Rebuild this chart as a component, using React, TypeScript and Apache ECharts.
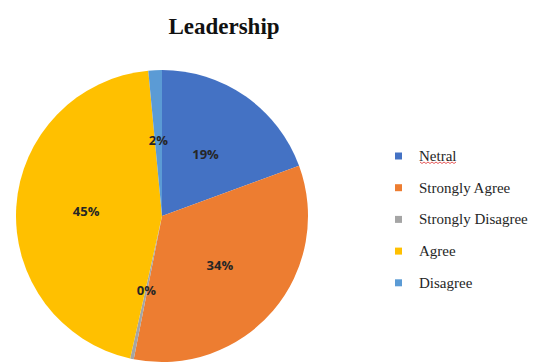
import React, { useEffect, useRef } from "react";
import * as echarts from "echarts";

const categories = ["Netral", "Strongly Agree", "Strongly Disagree", "Agree", "Disagree"];
const values = [19.4, 33.7, 0.4, 45.0, 1.5];
const colors = ["#4472C4", "#ED7D31", "#A5A5A5", "#FFC000", "#5B9BD5"];
const title = "Leadership";

export default function App() {
  const ref = useRef<HTMLDivElement>(null);
  useEffect(() => {
    if (!ref.current) return;
    const chart = echarts.init(ref.current, null, { renderer: "svg" });
    const wave: number[][] = [];
    for (let i = 0; i <= 18; i++) wave.push([420 + i * 2, 162 + (i % 2 === 0 ? 0 : 1.5)]);
    chart.setOption({
      animation: false,
      backgroundColor: "#ffffff",
      title: {
        text: title,
        left: 219,
        top: 10,
        textAlign: "center",
        textStyle: { fontFamily: "Liberation Serif", fontWeight: "bold", fontSize: 23, color: "#111" },
      },
      legend: {
        orient: "vertical",
        left: 390,
        top: 143,
        itemWidth: 7,
        itemHeight: 7,
        itemGap: 15.7,
        icon: "rect",
        data: categories,
        textStyle: {
          fontFamily: "Liberation Serif",
          fontSize: 15,
          color: "#262626",
          lineHeight: 16,
          padding: [0, 0, 0, 12],
        },
      },
      graphic: [
        {
          type: "polyline",
          shape: { points: wave },
          style: { stroke: "#e03030", lineWidth: 0.8, fill: null },
          z: 10,
        },
      ],
      series: [
        {
          type: "pie",
          center: [162, 216],
          radius: 146,
          startAngle: 90,
          clockwise: true,
          data: categories.map((c, i) => ({ name: c, value: values[i], itemStyle: { color: colors[i] } })),
          label: {
            show: true,
            position: "inside",
            formatter: (p: any) => Math.round(p.value) + "%",
            fontFamily: "Open Sans",
            fontWeight: "bold",
            fontSize: 13,
            color: "#262626",
          },
          labelLine: { show: false },
          itemStyle: { borderWidth: 0 },
          emphasis: { disabled: true },
        },
      ],
    });
    return () => chart.dispose();
  }, []);
  return (
    <div
      ref={ref}
      style={{ position: "fixed", left: 0, top: 0, width: 535, height: 364 }}
    />
  );
}
